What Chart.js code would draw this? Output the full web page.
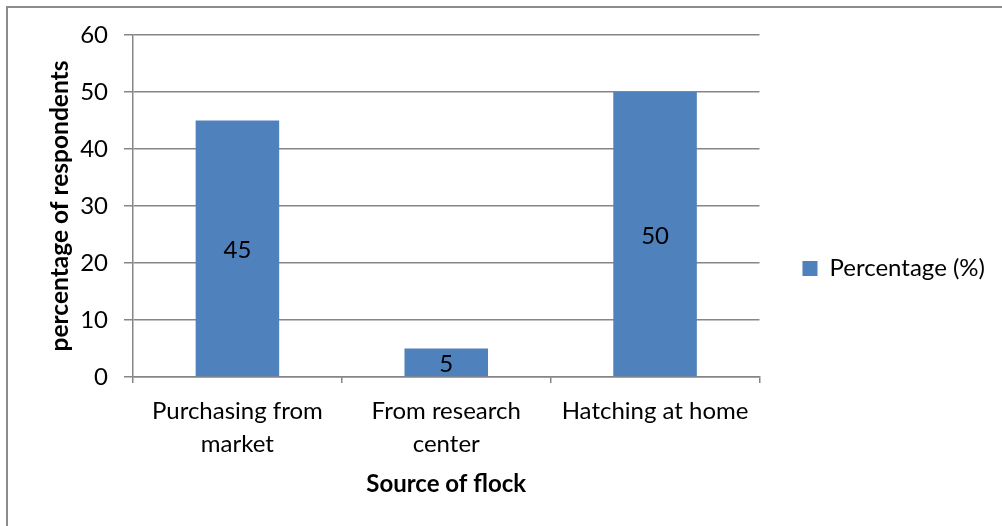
<!DOCTYPE html>
<html>
<head>
<meta charset="utf-8">
<script src="https://cdn.jsdelivr.net/npm/chart.js@4"></script>
<style>
  html, body { margin: 0; padding: 0; background: #fff; }
  #wrap { position: relative; width: 1002px; height: 526px; }
  #marco { position: absolute; left: 6px; top: 6px; right: -10px; bottom: -10px; border-left: 2px solid #8c8c8c; border-top: 2px solid #8c8c8c; pointer-events: none; }
</style>
</head>
<body>
<div id="wrap">
  <canvas id="grafica" width="1002" height="526"></canvas>
  <div id="marco"></div>
</div>
<script>
// datos
const categorias = [["Purchasing from", "market"], ["From research", "center"], ["Hatching at home"]];
const porcentajes = [45, 5, 50];
const nombreSerie = 'Percentage (%)';
const ticksY = [0, 10, 20, 30, 40, 50, 60];

const FUENTE = "Lato, 'Open Sans', sans-serif";
const GRIS = '#868686';

// escribe el valor en medio de cada barra
const etiquetasBarras = {
  id: 'etiquetasBarras',
  afterDatasetsDraw(chart) {
    const ctx = chart.ctx;
    const meta = chart.getDatasetMeta(0);
    ctx.save();
    ctx.font = `24px ${FUENTE}`;
    ctx.fillStyle = '#000';
    ctx.textAlign = 'center';
    ctx.textBaseline = 'middle';
    meta.data.forEach((barra, i) => {
      const { x, y, base } = barra.getProps(['x', 'y', 'base'], true);
      ctx.fillText(String(porcentajes[i]), x, (y + base) / 2 + 2);
    });
    ctx.restore();
  }
};

new Chart(document.getElementById('grafica').getContext('2d'), {
  type: 'bar',
  data: {
    labels: categorias,
    datasets: [{
      label: nombreSerie,
      data: porcentajes,
      backgroundColor: '#4F81BD',
      borderWidth: 0,
      categoryPercentage: 1,
      barPercentage: 0.4
    }]
  },
  options: {
    responsive: false,
    animation: false,
    // el fondo de 24px centra la leyenda como en la figura
    layout: { padding: { top: 35, left: 0, right: 7, bottom: 24 } },
    scales: {
      x: {
        offset: true,
        grid: { drawOnChartArea: false, drawTicks: true, tickLength: 6, offset: true, color: GRIS, lineWidth: 1.5 },
        border: { color: GRIS, width: 1.5 },
        ticks: { color: '#000', font: { family: FUENTE, size: 24, lineHeight: 1.375 }, padding: 12, maxRotation: 0, autoSkip: false },
        title: { display: true, text: 'Source of flock', color: '#000', font: { family: FUENTE, size: 24, weight: 'bold' }, padding: { top: 0, bottom: 3 } },
        afterFit(scale) { scale.height = 125; }
      },
      y: {
        min: 0,
        max: 60,
        afterBuildTicks(scale) { scale.ticks = ticksY.map(v => ({ value: v })); },
        grid: { color: GRIS, lineWidth: 1.5, tickLength: 9 },
        border: { color: GRIS, width: 1.5 },
        ticks: { color: '#000', font: { family: FUENTE, size: 24 }, padding: 16 },
        title: { display: true, text: 'percentage of respondents', color: '#000', font: { family: FUENTE, size: 24.5, weight: 'bold' }, padding: { top: 45, bottom: 0 } },
        afterFit(scale) { scale.width = 133; }
      }
    },
    plugins: {
      legend: {
        position: 'right',
        labels: { boxWidth: 15, boxHeight: 15, padding: 43, color: '#000', font: { family: FUENTE, size: 24 } }
      },
      tooltip: { enabled: false }
    }
  },
  plugins: [etiquetasBarras]
});
</script>
</body>
</html>
